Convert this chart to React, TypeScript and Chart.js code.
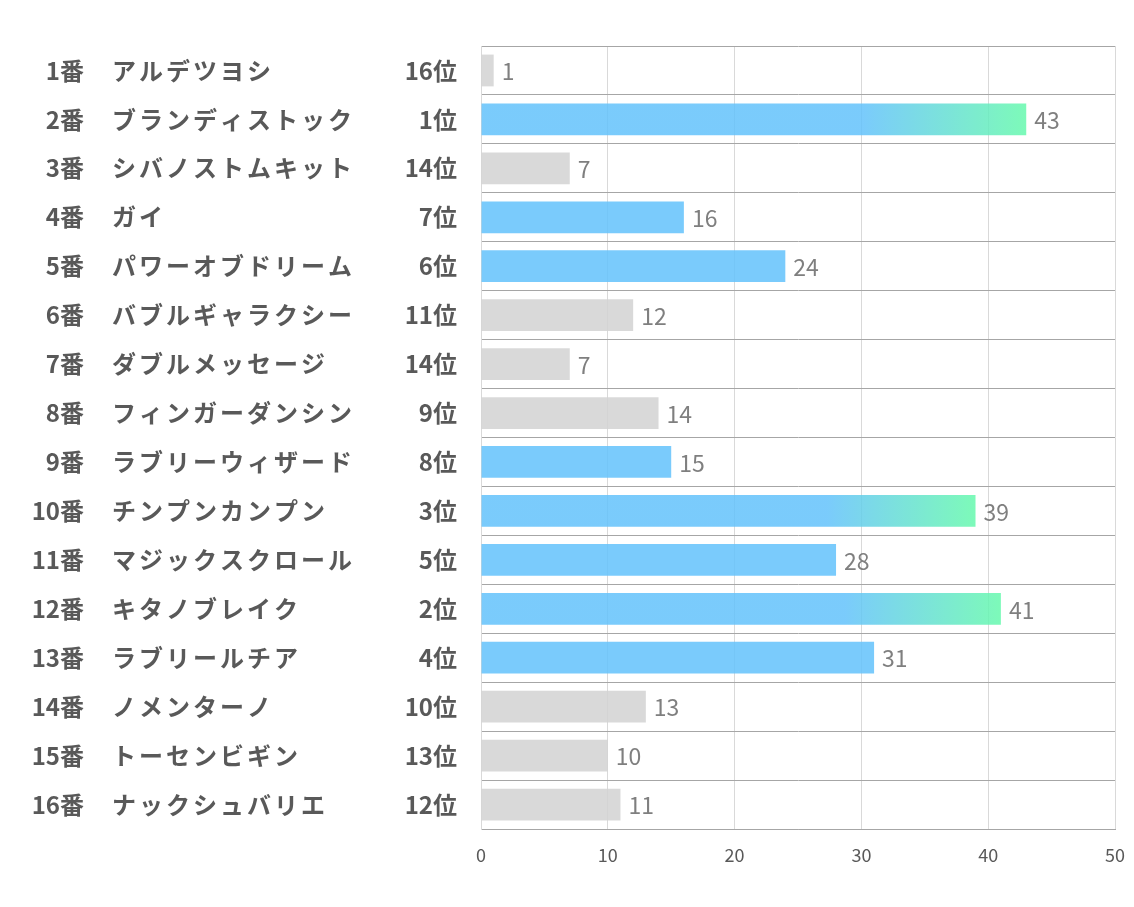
import React, { useEffect, useRef } from "react";
import Chart from "chart.js/auto";

const horseNumbers = ["1番", "2番", "3番", "4番", "5番", "6番", "7番", "8番", "9番", "10番", "11番", "12番", "13番", "14番", "15番", "16番"];
const horseNames = ["アルデツヨシ", "ブランディストック", "シバノストムキット", "ガイ", "パワーオブドリーム", "バブルギャラクシー", "ダブルメッセージ", "フィンガーダンシン", "ラブリーウィザード", "チンプンカンプン", "マジックスクロール", "キタノブレイク", "ラブリールチア", "ノメンターノ", "トーセンビギン", "ナックシュバリエ"];
const scores = [1, 43, 7, 16, 24, 12, 7, 14, 15, 39, 28, 41, 31, 13, 10, 11];
const ranks = [16, 1, 14, 7, 6, 11, 14, 9, 8, 3, 5, 2, 4, 10, 13, 12];
const xTicks = [0, 10, 20, 30, 40, 50];

const BLUE = "rgba(99,194,251,0.85)";
const GREEN = "rgba(102,249,173,0.85)";
const GRAY = "rgba(210,210,210,0.85)";
const TEXT = "#595959";

export default function App() {
  const ref = useRef<HTMLCanvasElement | null>(null);
  useEffect(() => {
    document.body.style.margin = "0";
    const canvas = ref.current;
    if (!canvas) return;

    const labelsPlugin = {
      id: "leftLabels",
      afterDraw(chart: any) {
        const ctx = chart.ctx;
        const ys = chart.scales.y;
        ctx.save();
        ctx.fillStyle = TEXT;
        ctx.font = 'bold 24px "Noto Sans CJK JP"';
        ctx.textBaseline = "middle";
        horseNumbers.forEach((n, i) => {
          const py = ys.getPixelForValue(i);
          ctx.letterSpacing = "0px";
          ctx.textAlign = "right";
          ctx.fillText(n, 84, py);
          ctx.textAlign = "right";
          ctx.fillText(ranks[i] + "位", 457, py);
          ctx.letterSpacing = "3px";
          ctx.textAlign = "left";
          ctx.fillText(horseNames[i], 112, py);
        });
        ctx.restore();
      },
      afterDatasetsDraw(chart: any) {
        const ctx = chart.ctx;
        const meta = chart.getDatasetMeta(0);
        ctx.save();
        ctx.fillStyle = "#7f7f7f";
        ctx.font = '23px "Noto Sans CJK JP"';
        ctx.textBaseline = "middle";
        ctx.textAlign = "left";
        meta.data.forEach((el: any, i: number) => {
          ctx.fillText(String(scores[i]), el.x + 8, el.y + 1);
        });
        ctx.restore();
      },
    };

    const chart = new Chart(canvas, {
      type: "bar",
      data: {
        labels: horseNames,
        datasets: [
          {
            data: scores,
            borderWidth: 0,
            barPercentage: 0.65,
            categoryPercentage: 1,
            backgroundColor: (c: any) => {
              const i = c.dataIndex;
              const r = ranks[i];
              if (r > 8) return GRAY;
              if (r > 3) return BLUE;
              const ch = c.chart;
              const xs = ch.scales && ch.scales.x;
              if (!ch.chartArea || !xs) return BLUE;
              const x0 = xs.getPixelForValue(0);
              const x1 = xs.getPixelForValue(scores[i]);
              const g = ch.ctx.createLinearGradient(x0, 0, x1, 0);
              g.addColorStop(0, BLUE);
              g.addColorStop(0.7, BLUE);
              g.addColorStop(1, GREEN);
              return g;
            },
          },
        ],
      },
      options: {
        indexAxis: "y",
        responsive: false,
        animation: false,
        layout: { padding: { top: 46, right: 19, left: 0, bottom: 0 } },
        plugins: { legend: { display: false }, tooltip: { enabled: false } },
        scales: {
          x: {
            min: 0,
            max: 50,
            afterBuildTicks: (s: any) => {
              s.ticks = xTicks.map((v) => ({ value: v }));
            },
            afterFit: (s: any) => {
              s.height = 78;
              s.paddingRight = 0;
              s.paddingLeft = 0;
            },
            ticks: {
              color: TEXT,
              font: { family: '"Noto Sans CJK JP"', size: 18 },
              padding: 15,
            },
            grid: { color: "#d9d9d9", drawTicks: false, lineWidth: 1 },
            border: { color: "#a6a6a6" },
          },
          y: {
            afterFit: (s: any) => {
              s.width = 481;
            },
            ticks: { display: false },
            grid: { color: "#a6a6a6", offset: true, drawTicks: false, lineWidth: 1 },
            border: { color: "#d9d9d9" },
          },
        },
      },
      plugins: [labelsPlugin],
    });
    return () => chart.destroy();
  }, []);
  return <canvas ref={ref} width={1134} height={907} style={{ display: "block" }} />;
}
